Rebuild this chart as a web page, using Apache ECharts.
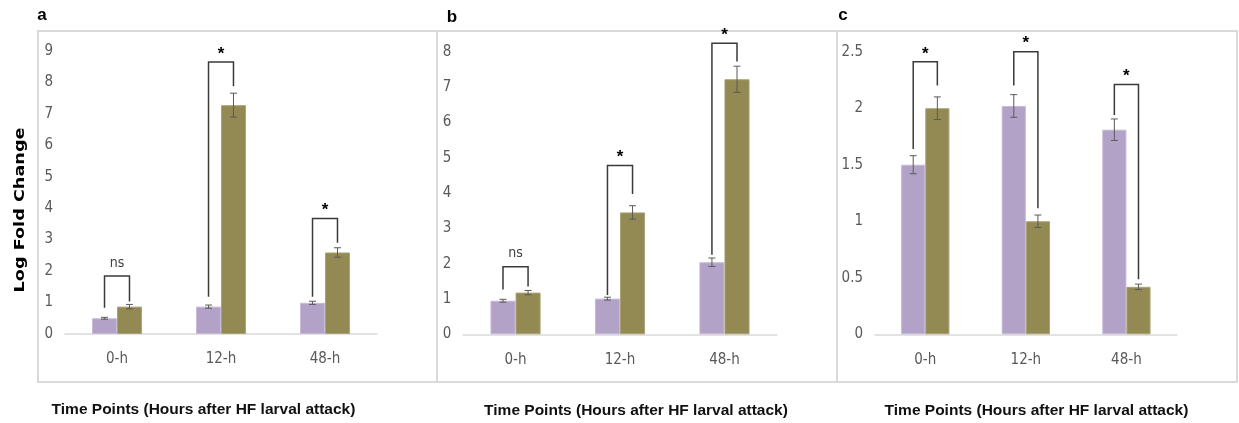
<!DOCTYPE html>
<html>
<head>
<meta charset="utf-8">
<script src="https://cdn.jsdelivr.net/npm/echarts@6/dist/echarts.min.js"></script>
<style>
html,body{margin:0;padding:0;background:#fff;}
#chart{width:1239px;height:423px;}
</style>
</head>
<body>
<div id="chart"></div>
<script>
// ---- data ----
const categories = ['0-h', '12-h', '48-h'];
const panelLetters = ['a', 'b', 'c'];
const xTitle = 'Time Points (Hours after HF larval attack)';
const yTitle = 'Log Fold Change';

const aPurple = [0.50, 0.87, 0.99];
const aPurpleErr = [0.03, 0.05, 0.05];
const aOlive = [0.87, 7.27, 2.59];
const aOliveErr = [0.07, 0.38, 0.15];

const bPurple = [0.95, 1.01, 2.04];
const bPurpleErr = [0.04, 0.04, 0.12];
const bOlive = [1.18, 3.45, 7.22];
const bOliveErr = [0.06, 0.19, 0.37];

const cPurple = [1.50, 2.02, 1.81];
const cPurpleErr = [0.08, 0.10, 0.095];
const cOlive = [2.00, 1.00, 0.42];
const cOliveErr = [0.10, 0.055, 0.024];

const yMax = [9, 8, 2.5];
const yStep = [1, 1, 0.5];

// significance brackets: [top, left leg bottom, right leg bottom]
const aBrackets = [[1.84, 0.83, 1.03], [8.64, 1.18, 7.87], [3.67, 1.18, 2.90]];
const bBrackets = [[1.91, 1.27, 1.35], [4.78, 1.11, 3.97], [8.24, 2.25, 7.72]];
const cBrackets = [[2.41, 1.64, 2.20], [2.50, 2.20, 1.115], [2.21, 1.94, 0.487]];
const aSig = ['ns', '*', '*'];
const bSig = ['ns', '*', '*'];
const cSig = ['*', '*', '*'];

// ---- layout ----
const grids = [
  {left: 65, top: 50.7, width: 312, height: 283.3},
  {left: 463.3, top: 51.7, width: 313.4, height: 282.6},
  {left: 875, top: 51.7, width: 301.7, height: 282.6}
];
const PURPLE = '#b3a2c7', OLIVE = '#938953';
const BAR_W = 0.24;
const tickFont = "'Liberation Sans Narrow', 'DejaVu Sans Condensed', 'Liberation Sans', Arial, sans-serif";

const panels = [
  {p: aPurple, pe: aPurpleErr, o: aOlive, oe: aOliveErr, br: aBrackets, sig: aSig},
  {p: bPurple, pe: bPurpleErr, o: bOlive, oe: bOliveErr, br: bBrackets, sig: bSig},
  {p: cPurple, pe: cPurpleErr, o: cOlive, oe: cOliveErr, br: cBrackets, sig: cSig}
];

function errRender(sign) {
  return function (params, api) {
    const i = api.value(0), v = api.value(1), e = api.value(2);
    const band = api.size([1, 0])[0];
    const x = api.coord([i, v])[0] + sign * band * BAR_W / 2;
    const yt = api.coord([i, v + e])[1];
    const yb = api.coord([i, v - e])[1];
    const hw = 3.5;
    const st = {stroke: '#5a5a5a', lineWidth: 1};
    return {type: 'group', children: [
      {type: 'line', shape: {x1: x, y1: yt, x2: x, y2: yb}, style: st},
      {type: 'line', shape: {x1: x - hw, y1: yt, x2: x + hw, y2: yt}, style: st},
      {type: 'line', shape: {x1: x - hw, y1: yb, x2: x + hw, y2: yb}, style: st}
    ]};
  };
}

function bracketRender(sigs) {
  return function (params, api) {
    const i = api.value(0), top = api.value(1), lb = api.value(2), rb = api.value(3);
    const band = api.size([1, 0])[0];
    const cx = api.coord([i, top])[0];
    const xl = cx - band * BAR_W / 2, xr = cx + band * BAR_W / 2;
    const yt = api.coord([i, top])[1];
    const yl = api.coord([i, lb])[1];
    const yr = api.coord([i, rb])[1];
    const s = sigs[params.dataIndex];
    const isStar = s === '*';
    return {type: 'group', children: [
      {type: 'polyline', shape: {points: [[xl, yl], [xl, yt], [xr, yt], [xr, yr]]},
        style: {stroke: '#3a3a3a', lineWidth: 1.5, fill: null}},
      {type: 'text', style: {
        text: s, x: (xl + xr) / 2, y: isStar ? yt - 8 : yt - 13,
        align: 'center', verticalAlign: 'middle',
        fontFamily: isStar ? "'Liberation Sans', Arial, sans-serif" : tickFont,
        fontWeight: isStar ? 'bold' : 'normal',
        fontSize: isStar ? 17 : 14,
        fill: isStar ? '#000' : '#404040'
      }}
    ]};
  };
}

const series = [];
panels.forEach((pn, k) => {
  series.push({type: 'bar', xAxisIndex: k, yAxisIndex: k, data: pn.p, barWidth: BAR_W * 100 + '%', barGap: '0%',
    itemStyle: {color: PURPLE, borderColor: '#c6b9d7', borderWidth: 1}, silent: true, z: 2});
  series.push({type: 'bar', xAxisIndex: k, yAxisIndex: k, data: pn.o, barWidth: BAR_W * 100 + '%', barGap: '0%',
    itemStyle: {color: OLIVE, borderColor: '#aaa274', borderWidth: 1}, silent: true, z: 2});
  series.push({type: 'custom', xAxisIndex: k, yAxisIndex: k, renderItem: errRender(-1),
    data: pn.p.map((v, i) => [i, v, pn.pe[i]]), z: 3, silent: true});
  series.push({type: 'custom', xAxisIndex: k, yAxisIndex: k, renderItem: errRender(1),
    data: pn.o.map((v, i) => [i, v, pn.oe[i]]), z: 3, silent: true});
  series.push({type: 'custom', xAxisIndex: k, yAxisIndex: k, renderItem: bracketRender(pn.sig),
    data: pn.br.map((b, i) => [i, b[0], b[1], b[2]]), z: 4, silent: true, clip: false});
});

const boxStyle = {stroke: '#d9d9d9', lineWidth: 2, fill: null};
const titleFont = {fontFamily: "'Liberation Sans', Arial, sans-serif", fontWeight: 'bold'};

const option = {
  animation: false,
  backgroundColor: '#ffffff',
  grid: grids.map(g => Object.assign({outerBoundsMode: 'none', containLabel: false}, g)),
  xAxis: grids.map((g, k) => ({
    type: 'category', gridIndex: k, data: categories,
    axisLine: {show: true, lineStyle: {color: '#d9d9d9', width: 1.5}},
    axisTick: {show: false},
    axisLabel: {color: '#595959', fontFamily: tickFont, fontSize: 15, margin: 18}
  })),
  yAxis: grids.map((g, k) => ({
    type: 'value', gridIndex: k, min: 0, max: yMax[k], interval: yStep[k],
    axisLine: {show: false}, axisTick: {show: false}, splitLine: {show: false},
    axisLabel: {color: '#595959', fontFamily: tickFont, fontSize: 15, margin: 12}
  })),
  series: series,
  graphic: [
    {type: 'rect', shape: {x: 38, y: 31, width: 399, height: 351}, style: boxStyle, silent: true},
    {type: 'rect', shape: {x: 437, y: 31, width: 400, height: 351}, style: boxStyle, silent: true},
    {type: 'rect', shape: {x: 837, y: 31, width: 400, height: 351}, style: boxStyle, silent: true},
    {type: 'text', x: 42, y: 15, style: Object.assign({text: panelLetters[0], fontSize: 17, fill: '#000', align: 'center', verticalAlign: 'middle'}, titleFont)},
    {type: 'text', x: 452, y: 17, style: Object.assign({text: panelLetters[1], fontSize: 17, fill: '#000', align: 'center', verticalAlign: 'middle'}, titleFont)},
    {type: 'text', x: 843, y: 15, style: Object.assign({text: panelLetters[2], fontSize: 17, fill: '#000', align: 'center', verticalAlign: 'middle'}, titleFont)},
    {type: 'text', x: 203.5, y: 410, style: Object.assign({text: xTitle, fontSize: 15.5, fill: '#111', align: 'center', verticalAlign: 'middle'}, titleFont)},
    {type: 'text', x: 636, y: 411, style: Object.assign({text: xTitle, fontSize: 15.5, fill: '#111', align: 'center', verticalAlign: 'middle'}, titleFont)},
    {type: 'text', x: 1036.5, y: 411, style: Object.assign({text: xTitle, fontSize: 15.5, fill: '#111', align: 'center', verticalAlign: 'middle'}, titleFont)},
    {type: 'text', x: 20, y: 210, rotation: Math.PI / 2, scaleX: 1.26,
      style: {text: yTitle, fontSize: 14, fill: '#000', align: 'center', verticalAlign: 'middle',
        fontFamily: "'DejaVu Sans', 'Liberation Sans', sans-serif", fontWeight: 'bold'}}
  ]
};

const chart = echarts.init(document.getElementById('chart'), null, {renderer: 'canvas'});
chart.setOption(option);
</script>
</body>
</html>
